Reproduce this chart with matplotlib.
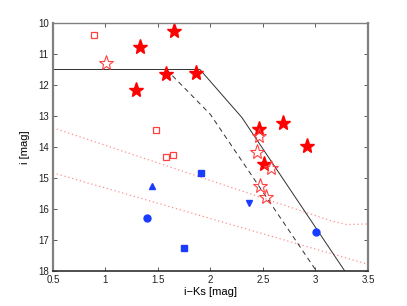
import matplotlib
matplotlib.use("Agg")
import matplotlib.pyplot as plt

plt.rcParams['font.family'] = ['Liberation Sans', 'DejaVu Sans']

# filled red stars
star_x = [1.655, 1.33, 1.29, 1.58, 1.86, 2.465, 2.69, 2.92, 2.507]
star_y = [10.26, 10.78, 12.16, 11.63, 11.61, 13.43, 13.23, 13.96, 14.56]
# open red stars
ostar_x = [1.005, 2.46, 2.445, 2.58, 2.47, 2.53]
ostar_y = [11.30, 13.65, 14.15, 14.66, 15.26, 15.62]
# open red squares
osq_x = [0.887, 1.484, 1.58, 1.646]
osq_y = [10.39, 13.45, 14.32, 14.26]
# blue points
bsq_x = [1.906, 1.745]
bsq_y = [14.85, 17.26]
bcirc_x = [1.395, 3.008]
bcirc_y = [16.29, 16.73]
bup_x = [1.44]
bup_y = [15.25]
bdown_x = [2.37]
bdown_y = [15.80]

# boundary lines
solid_x = [0.5, 1.9, 2.3, 3.28]
solid_y = [11.5, 11.5, 13.05, 18.0]
dash_x = [1.58, 2.0, 3.0]
dash_y = [11.5, 12.95, 17.95]
dot1_x = [0.5, 3.15, 3.3, 3.5]
dot1_y = [13.38, 16.38, 16.5, 16.48]
dot2_x = [0.5, 3.5]
dot2_y = [14.83, 17.78]

fig = plt.figure(figsize=(4.07, 3.06), dpi=100)
ax = fig.add_axes([0.130, 0.114, 0.774, 0.811])

red = '#ff0000'
lred = '#ff4040'
blue = '#1a3cff'

ax.plot(dot1_x, dot1_y, color='#ff9090', lw=0.9, dashes=(1, 2.2))
ax.plot(dot2_x, dot2_y, color='#ff9090', lw=0.9, dashes=(1, 2.2))
ax.plot(solid_x, solid_y, '-', color='#303030', lw=0.7)
ax.plot(dash_x, dash_y, '--', color='#303030', lw=0.7, dashes=(5, 4))

ax.plot(star_x, star_y, '*', color=red, ms=11, mec=red, ls='none')
ax.plot(ostar_x, ostar_y, '*', mfc='none', mec=lred, ms=11, mew=0.8, ls='none')
ax.plot(osq_x, osq_y, 's', mfc='none', mec=lred, ms=5, mew=0.9, ls='none')
ax.plot(bsq_x, bsq_y, 's', color=blue, ms=4, ls='none')
ax.plot(bcirc_x, bcirc_y, 'o', color=blue, ms=5, ls='none')
ax.plot(bup_x, bup_y, '^', color=blue, ms=5, ls='none')
ax.plot(bdown_x, bdown_y, 'v', color=blue, ms=5, ls='none')

ax.set_xlim(0.5, 3.5)
ax.set_ylim(18, 10)
ax.set_xticks([0.5, 1, 1.5, 2, 2.5, 3, 3.5])
ax.set_xticklabels(['0.5', '1', '1.5', '2', '2.5', '3', '3.5'])
ax.set_yticks([10, 11, 12, 13, 14, 15, 16, 17, 18])
ax.tick_params(direction='in', top=True, right=True, length=3, width=0.6,
               labelsize=7, colors='#404040', labelcolor='#202020', pad=3)
for s in ax.spines.values():
    s.set_color('#808080')
    s.set_linewidth(1.0)
ax.spines['left'].set_linewidth(1.6)
ax.spines['right'].set_linewidth(1.6)
ax.spines['bottom'].set_color('#303030')
ax.spines['bottom'].set_linewidth(1.2)

ax.set_xlabel('i\u2212Ks [mag]', fontsize=8, labelpad=1)
ax.set_ylabel('i [mag]', fontsize=8, labelpad=6)

fig.savefig('out.png', dpi=100)
